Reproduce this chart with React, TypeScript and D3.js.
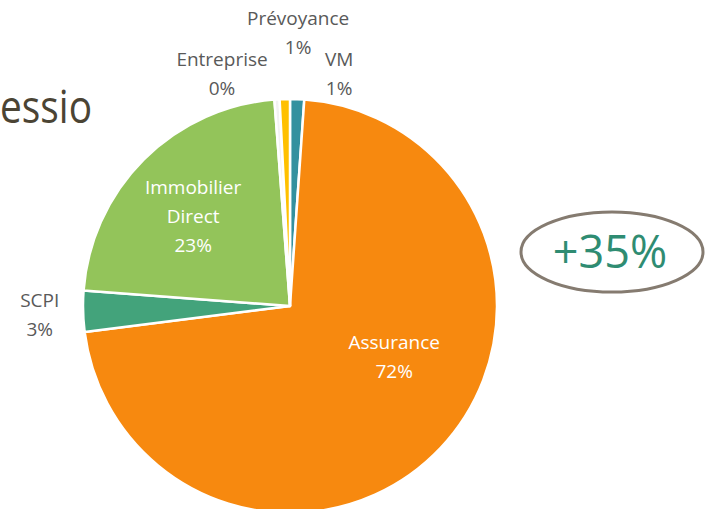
import React from "react";
import * as d3 from "d3";

// slices, clockwise from 12 o'clock
const categories = ["VM", "Assurance", "SCPI", "Immobilier Direct", "Entreprise", "Prévoyance"];
const values = [1.1, 71.9, 3.2, 22.6, 0.4, 0.8];
const colors = ["#33919F", "#F7890F", "#43A37B", "#93C45A", "#F2F2F2", "#FFC000"];
const pctLabels = ["1%", "72%", "3%", "23%", "0%", "1%"];

// label placement: [angle deg from top, radius as fraction of r, inside?]
const labelPlace: Record<string, [number, number, boolean]> = {
    "VM": [11.9, 1.15, false],
    "Assurance": [116, 0.56, true],
    "SCPI": [268, 1.21, false],
    "Immobilier Direct": [313, 0.64, true],
    "Entreprise": [343.7, 1.17, false],
    "Prévoyance": [1.7, 1.32, false],
};

const W = 711, H = 509;
const cx = 290, cy = 306, R = 207;
const font = "'Open Sans', 'Noto Sans', sans-serif";

export default function App() {
    const pie = d3.pie<number>().sort(null).value(d => d);
    const arcs = pie(values);
    const arc = d3.arc<d3.PieArcDatum<number>>().innerRadius(0).outerRadius(R);

    return (
        <svg width={W} height={H} style={{ position: "absolute", left: 0, top: 0 }}>
            <rect x={0} y={0} width={W} height={H} fill="#ffffff" />
            <text x={0} y={123} fontFamily={font} fontSize={46} fill="#4B4434"
                textLength={92} lengthAdjust="spacingAndGlyphs">essio</text>

            <g transform={`translate(${cx},${cy})`}>
                {arcs.map((a, i) => (
                    <path key={i} d={arc(a) || ""} fill={colors[i]} stroke="#ffffff" strokeWidth={2.5} strokeLinejoin="round" />
                ))}
                {categories.map((c, i) => {
                    const [deg, f, inside] = labelPlace[c];
                    const t = (deg * Math.PI) / 180;
                    const x = Math.sin(t) * R * f;
                    const y = -Math.cos(t) * R * f;
                    const lines = c === "Immobilier Direct" ? ["Immobilier", "Direct", pctLabels[i]] : [c, pctLabels[i]];
                    const lh = 29;
                    const y0 = y - ((lines.length - 1) * lh) / 2;
                    return (
                        <text key={c} x={x} y={y0} textAnchor="middle" dominantBaseline="central"
                            fontFamily={font} fontSize={19} fill={inside ? "#ffffff" : "#595959"}>
                            {lines.map((l, k) => (
                                <tspan key={k} x={x} y={y0 + k * lh}>{l}</tspan>
                            ))}
                        </text>
                    );
                })}
            </g>

            <ellipse cx={612} cy={252} rx={91} ry={40} fill="none" stroke="#857B70" strokeWidth={3} />
            <text x={610} y={250} textAnchor="middle" dominantBaseline="central" fontFamily={font}
                fontSize={45} fill="#2F8C72">+35%</text>
        </svg>
    );
}
